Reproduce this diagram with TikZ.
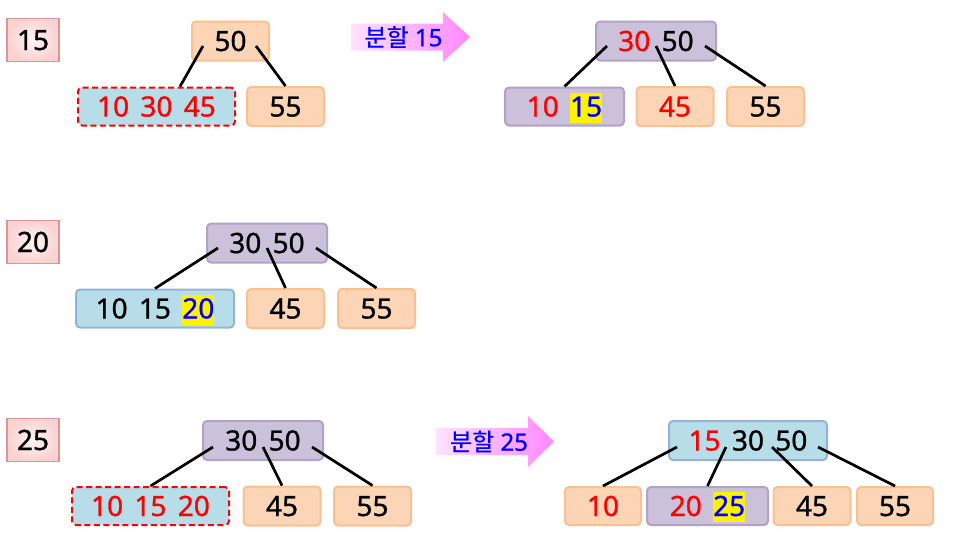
\documentclass[tikz,border=0pt]{standalone}
\usepackage{fontspec}
\setmainfont{Noto Sans}
\newfontfamily\keyface{Noto Sans}[FakeBold=1]
\newfontfamily\hangul{Noto Sans CJK KR}[FakeBold=0.6]
\usepackage{xcolor}
\usepackage{tikz}
\usetikzlibrary{calc}
\definecolor{orangefill}{HTML}{FBD5B5}
\definecolor{orangeline}{HTML}{FAC090}
\definecolor{lilacfill}{HTML}{CCC1DA}
\definecolor{lilacline}{HTML}{B3A2C7}
\definecolor{skyfill}{HTML}{B7DEE8}
\definecolor{skyline}{HTML}{95B3D7}
\definecolor{rosein}{HTML}{FFF2F2}
\definecolor{roseout}{HTML}{FAD2D2}
\definecolor{roseline}{HTML}{D99694}
\definecolor{arrowpale}{HTML}{FFE2FF}
\definecolor{arrowpink}{HTML}{FF88FF}
\newlength{\pix}\setlength{\pix}{0.75pt}
\newcommand{\keyfont}{\keyface\fontsize{21}{25}\selectfont}
\newcommand{\keygap}{\hspace{8.5pt}}
\newcommand{\rd}[1]{\textcolor{red}{#1}}
\newcommand{\hl}[1]{{\fboxsep=0pt\colorbox{yellow}{\rule[-4.5pt]{0pt}{22.5pt}\textcolor{blue}{#1}}}}
\tikzset{
  keynode/.style={rounded corners=4\pix,line width=2\pix,minimum height=39\pix,
    inner sep=0pt,text height=15pt,text depth=0pt,font=\keyfont},
  leaf/.style={keynode,draw=orangeline,fill=orangefill,minimum width=77\pix},
  lilac/.style={keynode,draw=lilacline,fill=lilacfill},
  sky/.style={keynode,draw=skyline,fill=skyfill},
  overflow/.style={keynode,draw=red,fill=skyfill,dash pattern=on 6\pix off 3.5\pix,
    minimum width=157\pix,minimum height=38\pix},
  insertbox/.style={draw=roseline,line width=1.5\pix,inner color=rosein,outer color=roseout,
    minimum width=52\pix,minimum height=43\pix,inner sep=0pt,font=\keyfont,
    text height=15pt,text depth=0pt},
  splitarrow/.style={left color=arrowpale,right color=arrowpink},
  splitlabel/.style={font=\keyface\fontsize{18}{21}\selectfont,text=blue,inner sep=0pt},
  link/.style={line width=2.7\pix,black},
}

\begin{document}
\begin{tikzpicture}[x=0.75pt,y=-0.75pt]
  \useasboundingbox (0,0) rectangle (953,557);

  \node[insertbox] (s15) at (33,40) {15};
  \node[insertbox] (s20) at (33,242) {20};
  \node[insertbox] (s25) at (33,440) {25};

  \node[leaf] (a50) at (230.5,41) {50};
  \node[overflow] (a1) at (156.5,106.5) {\rd{10\keygap 30\keygap 45}};
  \node[leaf] (a55) at (285.5,106.5) {55};
  \coordinate (a50l) at (203,46);
  \coordinate (a50r) at (256,46);
  \draw[link] (a50l) -- ([xshift=23.5\pix]a1.north);
  \draw[link] (a50r) -- (a55.north);

  \shade[splitarrow] (351,23.5) -- (443,23.5) -- (443,12) -- (470,37) -- (443,62)
    -- (443,50.5) -- (351,50.5) -- cycle;
  \node[splitlabel] (split15) at (403.5,37) {{\hangul 분할} 15};

  \node[lilac,minimum width=120\pix] (b3050) at (656,41) {\rd{30}\keygap 50};
  \node[lilac,minimum width=119\pix,minimum height=38\pix] (b1) at (564.5,106.5)
    {\rd{10}\keygap\hl{15}};
  \node[leaf] (b45) at (675,106.5) {\rd{45}};
  \node[leaf] (b55) at (765.5,106.5) {55};
  \coordinate (b30l) at (607,46);
  \coordinate (b30r) at (656,46);
  \coordinate (b50r) at (705,46);
  \draw[link] (b30l) -- (b1.north);
  \draw[link] (b30r) -- (b45.north);
  \draw[link] (b50r) -- (b55.north);

  \node[lilac,minimum width=120\pix] (c3050) at (267,243) {30\keygap 50};
  \node[sky,minimum width=158\pix,minimum height=38\pix] (c1) at (155,308.5)
    {10\keygap 15\keygap\hl{20}};
  \node[leaf] (c45) at (285.5,308.5) {45};
  \node[leaf] (c55) at (376.5,308.5) {55};
  \coordinate (c30l) at (218,248);
  \coordinate (c30r) at (267,248);
  \coordinate (c50r) at (316,248);
  \draw[link] (c30l) -- (c1.north);
  \draw[link] (c30r) -- (c45.north);
  \draw[link] (c50r) -- (c55.north);

  \node[lilac,minimum width=120\pix] (d3050) at (263,440.5) {30\keygap 50};
  \node[overflow] (d1) at (150.5,506) {\rd{10\keygap 15\keygap 20}};
  \node[leaf] (d45) at (282,506) {45};
  \node[leaf] (d55) at (372.5,506) {55};
  \coordinate (d30l) at (213,447);
  \coordinate (d30r) at (263,447);
  \coordinate (d50r) at (312,447);
  \draw[link] (d30l) -- (d1.north);
  \draw[link] (d30r) -- (d45.north);
  \draw[link] (d50r) -- (d55.north);

  \shade[splitarrow] (436,428) -- (528,428) -- (528,416) -- (554,441.5) -- (528,467)
    -- (528,455) -- (436,455) -- cycle;
  \node[splitlabel] (split25) at (489,441.5) {{\hangul 분할} 25};

  \node[sky,minimum width=158\pix] (e153050) at (748,440.5) {\rd{15}\keygap 30\keygap 50};
  \node[leaf,minimum width=76\pix,minimum height=38\pix] (e10) at (603,506) {\rd{10}};
  \node[lilac,minimum width=121\pix,minimum height=38\pix] (e2) at (707.5,506)
    {\rd{20}\keygap\hl{25}};
  \node[leaf,minimum height=38\pix] (e45) at (812,506) {45};
  \node[leaf,minimum width=76\pix,minimum height=38\pix] (e55) at (895,506) {55};
  \coordinate (e15l) at (677,447);
  \coordinate (e15r) at (726,447);
  \coordinate (e30r) at (772,447);
  \coordinate (e50r) at (818,447);
  \draw[link] (e15l) -- (e10.north);
  \draw[link] (e15r) -- (e2.north);
  \draw[link] (e30r) -- (e45.north);
  \draw[link] (e50r) -- (e55.north);
\end{tikzpicture}
\end{document}
